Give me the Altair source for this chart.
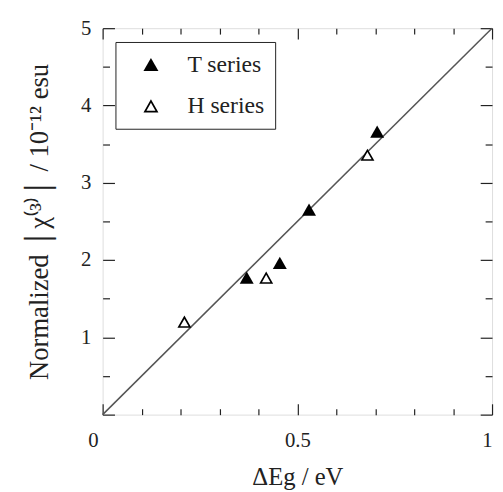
import altair as alt
import pandas as pd

# ---- data ----
t_x = [0.37, 0.455, 0.53, 0.705]
t_y = [1.77, 1.96, 2.65, 3.66]
h_x = [0.21, 0.42, 0.68]
h_y = [1.20, 1.77, 3.36]
series_names = ["T series", "H series"]
fit_x = [0.0, 1.0]
fit_y = [0.0, 5.0]
x_tick_values = [0, 0.1, 0.2, 0.3, 0.4, 0.5, 0.6, 0.7, 0.8, 0.9, 1]
y_tick_values = [0, 0.5, 1, 1.5, 2, 2.5, 3, 3.5, 4, 4.5, 5]

FONT = "Liberation Serif"
INK = "#222222"

# filled triangle and hollow (outline) triangle as symbol paths
TRI_FILLED = "M0,-0.9L1,0.85L-1,0.85Z"
TRI_HOLLOW = "M0,-0.9L1,0.85L-1,0.85Z M0,-0.43L-0.6,0.62L0.6,0.62Z"

pts = pd.DataFrame({
    "x": t_x + h_x,
    "y": t_y + h_y,
    "series": [series_names[0]] * len(t_x) + [series_names[1]] * len(h_x),
})
fit = pd.DataFrame({"x": fit_x, "y": fit_y})

xscale = alt.Scale(domain=[0, 1], nice=False, zero=False)
yscale = alt.Scale(domain=[0, 5], nice=False, zero=False)

x_major = {"condition": {"test": "datum.value % 0.5 == 0", "value": -11}, "value": -6}
y_major = {"condition": {"test": "datum.value % 1 == 0", "value": -12}, "value": -7}

x_bottom = alt.Axis(
    orient="bottom", values=x_tick_values, grid=False, domain=False,
    tickSize=x_major, tickColor=INK, tickWidth=1.2,
    labelExpr="datum.value == 0 ? '0' : datum.value == 0.5 ? '0.5' : datum.value == 1 ? '1' : ''",
    labelOffset={"condition": {"test": "datum.value == 0", "value": -15}, "value": 0},
    labelPadding=26, labelFont=FONT, labelFontSize=21, labelColor=INK,
    title="\u0394Eg / eV", titleFont=FONT, titleFontSize=25, titleFontWeight="normal",
    titleColor=INK, titlePadding=15,
)
y_left = alt.Axis(
    orient="left", values=y_tick_values, grid=False, domain=False,
    tickSize=y_major, tickColor=INK, tickWidth=1.2,
    labelExpr="datum.value > 0 && datum.value % 1 == 0 ? format(datum.value, 'd') : ''",
    labelPadding=24, labelFont=FONT, labelFontSize=21, labelColor=INK,
    title="Normalized \u2502\u03c7\u207d\u00b3\u207e\u2502 / 10\u207b\u00b9\u00b2 esu",
    titleFont=FONT, titleFontSize=27, titleFontWeight="normal", titleColor=INK,
    titlePadding=27,
)
x_top = alt.Axis(orient="top", values=x_tick_values, grid=False, domain=False,
                 labels=False, title=None, tickSize=x_major, tickColor=INK, tickWidth=1.2)
y_right = alt.Axis(orient="right", values=y_tick_values, grid=False, domain=False,
                   labels=False, title=None, tickSize=y_major, tickColor=INK, tickWidth=1.2)

legend = alt.Legend(
    title=None, orient="none", legendX=13, legendY=14,
    fillColor="white", strokeColor=INK, padding=11,
    labelFont=FONT, labelFontSize=24, labelColor=INK, labelOffset=25,
    symbolSize=230, symbolFillColor="black", symbolStrokeWidth=0,
    symbolOffset=13, rowPadding=18, labelLimit=300,
)

line = alt.Chart(fit).mark_line(color="#555555", strokeWidth=1.5).encode(
    x=alt.X("x:Q", scale=xscale, axis=x_bottom),
    y=alt.Y("y:Q", scale=yscale, axis=y_left),
)

frame_axes = alt.Chart(fit).mark_line(opacity=0).encode(
    x=alt.X("x:Q", scale=xscale, axis=x_top),
    y=alt.Y("y:Q", scale=yscale, axis=y_right),
)

# white backing under every triangle so the hollow ones look white inside
backing = alt.Chart(pts).mark_point(filled=True, shape=TRI_FILLED, size=150, color="white", opacity=1).encode(
    x=alt.X("x:Q", scale=xscale, axis=None),
    y=alt.Y("y:Q", scale=yscale, axis=None),
)

points = alt.Chart(pts).mark_point(filled=True, size=200, color="black", opacity=1, strokeWidth=0).encode(
    x=alt.X("x:Q", scale=xscale, axis=None),
    y=alt.Y("y:Q", scale=yscale, axis=None),
    shape=alt.Shape("series:N", scale=alt.Scale(domain=series_names, range=[TRI_FILLED, TRI_HOLLOW]),
                    legend=legend),
)

chart = alt.layer(line, frame_axes, backing, points).resolve_axis(
    x="independent", y="independent"
).properties(
    width=395, height=392,
    autosize=alt.AutoSizeParams(type="none"),
    padding={"left": 96, "top": 17, "right": 3, "bottom": 75},
).configure_view(
    stroke=INK, strokeWidth=1.5
).configure_legend(
    strokeWidth=1.5, cornerRadius=0,
).configure(background="white")

chart.save("out.html", embed_options={"renderer": "svg", "actions": False})
